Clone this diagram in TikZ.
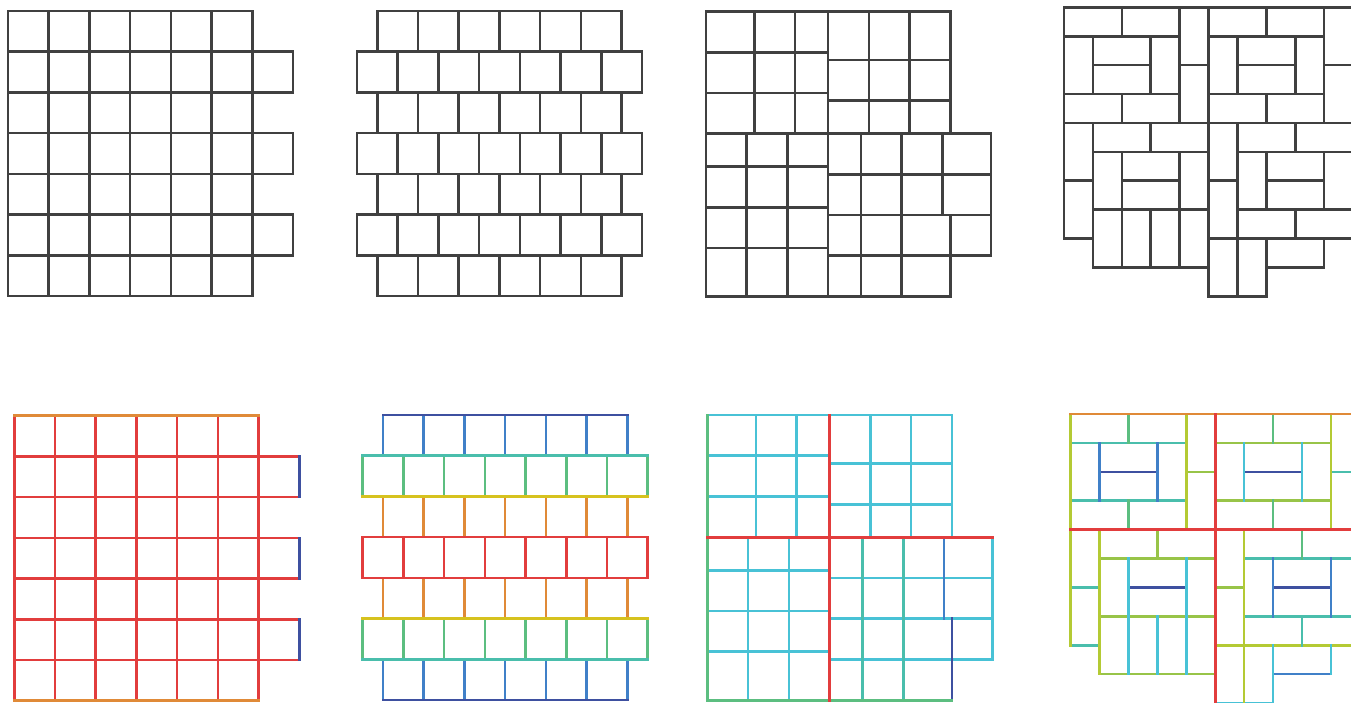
\documentclass[tikz,border=0pt]{standalone}
\usepackage{xcolor}
\usepackage{tikz}
\definecolor{tilegray}{RGB}{64,64,64}
\definecolor{tred}{RGB}{226,61,61}
\definecolor{torange}{RGB}{224,138,56}
\definecolor{tyellow}{RGB}{214,194,30}
\definecolor{tlime}{RGB}{180,202,52}
\definecolor{tygreen}{RGB}{152,196,72}
\definecolor{tgreen}{RGB}{92,190,128}
\definecolor{tteal}{RGB}{74,190,172}
\definecolor{tcyan}{RGB}{72,194,214}
\definecolor{tblue}{RGB}{64,128,200}
\definecolor{tdarkblue}{RGB}{62,80,160}
\tikzset{
  tile/.style={line width=2.6pt, line cap=rect, line join=miter},
  panel/.style={x=#1pt, y=-#1pt}
}

% all rainbow colours turned to gray (local to a scope)
\newcommand{\graytiles}{%
  \colorlet{tred}{tilegray}\colorlet{torange}{tilegray}\colorlet{tyellow}{tilegray}%
  \colorlet{tlime}{tilegray}\colorlet{tygreen}{tilegray}\colorlet{tgreen}{tilegray}%
  \colorlet{tteal}{tilegray}\colorlet{tcyan}{tilegray}\colorlet{tblue}{tilegray}%
  \colorlet{tdarkblue}{tilegray}}

% square grid with three cells sticking out
\newcommand{\squaretiles}{%
  \foreach \x in {0,...,6} \draw[tile, tred] (\x,0) -- (\x,7);
  \foreach \y in {1,...,6} \draw[tile, tred] (0,\y) -- (7,\y);
  \draw[tile, torange] (0,0) -- (6,0) (0,7) -- (6,7);
  \foreach \y in {1,3,5} \draw[tile, tdarkblue] (7,\y) -- (7,\y+1);
}

% running bond
\newcommand{\bricktiles}{%
  \foreach \y/\col in {0/tblue, 2/torange, 4/torange, 6/tblue}
    \foreach \x in {0.5,1.5,...,6.5} \draw[tile, color=\col] (\x,\y) -- (\x,\y+1);
  \foreach \y/\col in {1/tgreen, 3/tred, 5/tgreen}
    \foreach \x in {0,...,7} \draw[tile, color=\col] (\x,\y) -- (\x,\y+1);
  \foreach \y/\col in {1/tteal, 2/tyellow, 3/tred, 4/tred, 5/tyellow, 6/tteal}
    \draw[tile, color=\col] (0,\y) -- (7,\y);
  \draw[tile, tdarkblue] (0.5,0) -- (6.5,0) (0.5,7) -- (6.5,7);
}

% four shifted 3x3 / 3x4 blocks
\newcommand{\splittiles}{%
  % top-left block
  \foreach \x in {1.19,2.19} \draw[tile, tcyan] (\x,0) -- (\x,3);
  \foreach \y in {1,2} \draw[tile, tcyan] (0,\y) -- (3,\y);
  % top-right block
  \foreach \x in {4,5} \draw[tile, tcyan] (\x,0) -- (\x,3);
  \foreach \y in {1.19,2.19} \draw[tile, tcyan] (3,\y) -- (6,\y);
  \draw[tile, tcyan] (0,0) -- (6,0) -- (6,3);
  % bottom-left block
  \foreach \x in {1,2} \draw[tile, tcyan] (\x,3) -- (\x,7);
  \foreach \y in {3.81,4.81,5.81} \draw[tile, tcyan] (0,\y) -- (3,\y);
  % bottom-right block
  \foreach \y in {4,5,6} \draw[tile, tcyan] (3,\y) -- (7,\y);
  \draw[tile, tcyan] (7,3) -- (7,6);
  \foreach \x in {3.81,4.81} \draw[tile, tteal] (\x,3) -- (\x,7);
  \draw[tile, tblue] (5.81,3) -- (5.81,5);
  \draw[tile, tdarkblue] (6,5) -- (6,7);
  % outline and cross
  \draw[tile, tgreen] (6,7) -- (0,7) -- (0,0);
  \draw[tile, tred] (3,0) -- (3,7) (0,3) -- (7,3);
}

% basket weave of 2x1 bricks
\newcommand{\weavetiles}{%
  \foreach \pos/\lo/\hi/\col in {1/0/4/tteal, 1/5/9/tygreen, 2/1/3/tdarkblue,
      2/4/5/tygreen, 2/6/8/tdarkblue, 2/9/10/tteal, 3/0/4/tteal, 3/5/9/tygreen,
      5/1/5/tygreen, 5/6/10/tteal, 6/0/1/tteal, 6/2/4/tdarkblue, 6/5/6/tygreen,
      6/7/9/tdarkblue, 7/1/5/tygreen, 7/6/10/tteal, 8/0/1/tteal, 8/5/10/tlime,
      9/1/5/tygreen, 9/7/9/tblue, 10/5/7/tcyan}
    \draw[tile, color=\col] (\lo,\pos) -- (\hi,\pos);
  \foreach \pos/\lo/\hi/\col in {0/0/8/tlime, 1/1/3/tblue, 1/4/9/tlime,
      2/0/1/tgreen, 2/3/4/tgreen, 2/5/9/tcyan, 3/1/3/tblue, 3/4/5/tygreen,
      3/7/9/tcyan, 4/0/4/tlime, 4/5/9/tcyan, 6/1/3/tcyan, 6/4/10/tlime,
      7/0/1/tgreen, 7/3/4/tgreen, 7/5/7/tblue, 7/8/10/tcyan, 8/1/3/tcyan,
      8/4/5/tgreen, 8/7/8/tteal, 9/0/4/tlime, 9/5/7/tblue, 9/8/9/tcyan}
    \draw[tile, color=\col] (\pos,\lo) -- (\pos,\hi);
  \draw[tile, torange] (0,0) -- (10,0);
  \draw[tile, tred] (5,0) -- (5,10) (0,4) -- (10,4);
}

\begin{document}
\begin{tikzpicture}[x=1pt, y=-1pt]
  \useasboundingbox (0,0) rectangle (1351,702);
  \clip (0,0) rectangle (1351,702);

  % Top row: gray tilings
  \begin{scope}[shift={(8,11)}, panel=40.7]
    \graytiles\squaretiles
  \end{scope}
  \begin{scope}[shift={(357,11)}, panel=40.7]
    \graytiles\bricktiles
  \end{scope}
  \begin{scope}[shift={(706,11.5)}, panel=40.7]
    \graytiles\splittiles
  \end{scope}
  \begin{scope}[shift={(1064,7.3)}, panel=28.9]
    \graytiles\weavetiles
  \end{scope}

  % Bottom row: same tilings, coloured by level
  \begin{scope}[shift={(14.3,415.7)}, panel=40.7]
    \squaretiles
  \end{scope}
  \begin{scope}[shift={(362.7,415)}, panel=40.7]
    \bricktiles
  \end{scope}
  \begin{scope}[shift={(707.3,415)}, panel=40.75]
    \splittiles
  \end{scope}
  \begin{scope}[shift={(1070.7,414)}, panel=28.9]
    \weavetiles
  \end{scope}
\end{tikzpicture}
\end{document}
